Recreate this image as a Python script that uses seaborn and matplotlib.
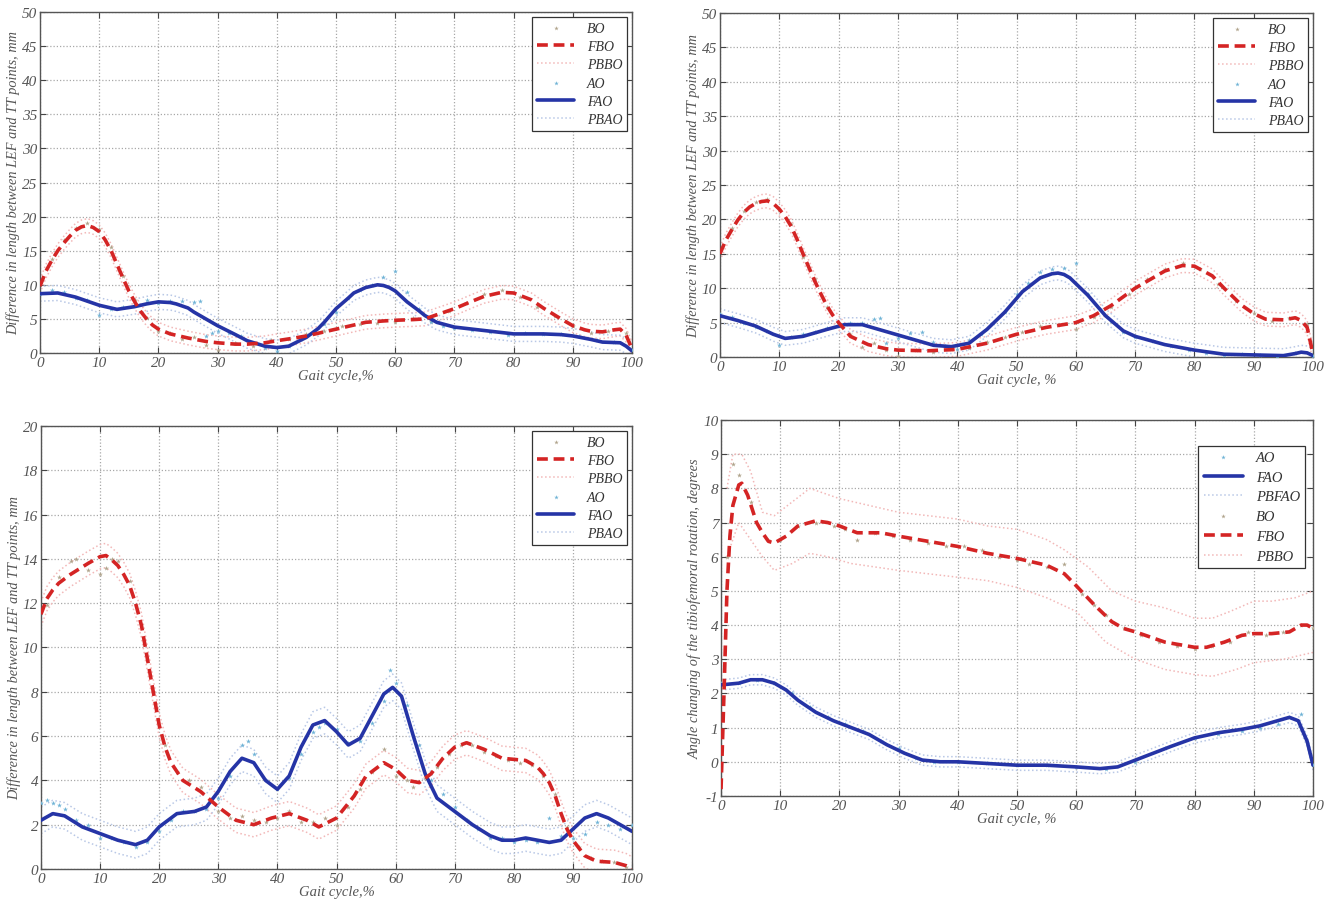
import numpy as np
import pandas as pd
import matplotlib
matplotlib.use("Agg")
import matplotlib.pyplot as plt
import seaborn as sns

# ---------------- DATA ----------------
# Panel 1 (top-left)
p1_fbo_x = [0, 1, 2, 3, 4, 5, 6, 7, 8, 9, 10, 11, 12, 13, 14, 15, 16, 17, 18, 19, 20, 22, 25, 28, 30, 33, 35, 38, 40, 43, 45, 48, 50, 53, 55, 58, 60, 63, 65, 67, 70, 73, 75, 78, 80, 83, 85, 88, 90, 92, 93, 95, 97, 98, 99, 100]
p1_fbo_y = [9.8, 12.0, 13.6, 15.0, 16.1, 17.1, 18.0, 18.5, 18.7, 18.4, 17.8, 16.6, 15.0, 13.0, 11.0, 9.1, 7.5, 6.1, 5.0, 4.1, 3.5, 2.8, 2.2, 1.7, 1.5, 1.3, 1.3, 1.5, 1.8, 2.2, 2.5, 3.1, 3.5, 4.1, 4.5, 4.7, 4.8, 4.9, 5.0, 5.6, 6.5, 7.6, 8.3, 8.9, 8.8, 7.8, 6.6, 5.0, 4.0, 3.4, 3.2, 3.1, 3.4, 3.5, 2.6, 0.6]
p1_fao_x = [0, 3, 6, 8, 10, 13, 16, 18, 20, 22, 23, 25, 26, 28, 30, 33, 35, 38, 40, 42, 45, 47, 48, 50, 52, 53, 55, 57, 58, 59, 60, 62, 64, 65, 67, 70, 75, 80, 85, 88, 90, 93, 95, 98, 99, 100]
p1_fao_y = [8.7, 8.8, 8.2, 7.6, 7.0, 6.4, 6.8, 7.2, 7.5, 7.4, 7.2, 6.6, 6.0, 5.0, 4.0, 2.7, 1.8, 1.0, 0.8, 1.0, 2.3, 3.6, 4.5, 6.5, 8.0, 8.8, 9.6, 10.0, 9.9, 9.6, 9.1, 7.5, 6.2, 5.5, 4.5, 3.8, 3.3, 2.8, 2.8, 2.7, 2.5, 2.0, 1.6, 1.5, 1.0, 0.3]
p1_bo_x = [0, 2, 4, 6, 8, 10, 12, 14, 16, 18, 20, 22, 24, 26, 28, 30, 33, 36, 39, 42, 45, 48, 51, 54, 57, 60, 63, 66, 69, 72, 75, 78, 81, 84, 87, 90, 93, 96, 99]
p1_bo_y = [10.2, 13.8, 16.5, 18.3, 19.0, 18.2, 15.5, 11.3, 7.8, 5.2, 3.3, 2.9, 2.0, 2.4, 1.2, 0.4, 1.5, 1.1, 1.9, 2.1, 2.8, 3.3, 3.9, 4.2, 4.4, 4.6, 5.1, 4.7, 6.2, 7.4, 8.6, 9.2, 8.2, 6.8, 5.4, 3.9, 3.0, 3.3, 3.0]
p1_ao_x = [0, 2, 4, 6, 8, 10, 12, 14, 16, 18, 20, 22, 24, 26, 27, 28, 29, 30, 32, 34, 36, 38, 40, 42, 44, 46, 48, 50, 52, 54, 56, 58, 60, 62, 64, 66, 68, 70, 73, 76, 79, 82, 85, 88, 91, 94, 97, 100]
p1_ao_y = [8.6, 9.2, 9.0, 8.0, 7.8, 5.5, 6.4, 6.8, 7.2, 7.7, 7.3, 7.6, 7.6, 7.5, 7.6, 2.5, 3.0, 3.3, 3.0, 2.5, 1.5, 0.8, 0.3, 1.0, 2.0, 3.0, 4.2, 6.0, 8.0, 9.2, 10.0, 11.2, 12.0, 9.0, 6.5, 4.5, 3.9, 3.7, 3.4, 3.1, 2.7, 2.9, 2.8, 2.8, 2.5, 1.9, 1.6, 0.5]
p1_pb_bo = 1.0
p1_pb_ao = 1.1

# Panel 2 (top-right)
p2_fbo_x = [0, 1, 2, 3, 4, 5, 6, 7, 8, 9, 10, 11, 12, 13, 14, 15, 16, 17, 18, 19, 20, 22, 25, 28, 30, 35, 40, 45, 50, 55, 60, 63, 66, 70, 73, 75, 78, 80, 83, 85, 88, 90, 92, 95, 97, 98, 99, 100]
p2_fbo_y = [15.0, 17.0, 18.5, 19.9, 21.0, 21.8, 22.3, 22.6, 22.7, 22.3, 21.5, 20.4, 19.0, 17.1, 15.0, 13.0, 11.0, 9.2, 7.5, 6.1, 5.0, 3.0, 1.8, 1.2, 1.0, 0.9, 1.1, 2.0, 3.3, 4.3, 5.0, 6.0, 7.5, 10.0, 11.5, 12.5, 13.3, 13.2, 11.8, 10.0, 7.5, 6.3, 5.5, 5.4, 5.7, 5.3, 4.3, 0.4]
p2_fao_x = [0, 3, 6, 9, 11, 14, 18, 21, 24, 28, 32, 36, 39, 42, 45, 48, 51, 54, 56, 57, 58, 59, 62, 65, 68, 70, 75, 80, 85, 90, 95, 97, 98, 99, 100]
p2_fao_y = [6.0, 5.3, 4.5, 3.3, 2.7, 3.0, 4.0, 4.7, 4.7, 3.7, 2.7, 1.7, 1.5, 2.0, 4.0, 6.5, 9.5, 11.5, 12.1, 12.2, 12.0, 11.5, 9.0, 6.0, 3.8, 3.0, 1.8, 1.0, 0.4, 0.3, 0.2, 0.5, 0.7, 0.6, 0.2]
p2_bo_x = [0, 2, 4, 6, 8, 10, 12, 14, 16, 18, 20, 22, 24, 26, 28, 30, 33, 36, 39, 42, 45, 48, 51, 54, 57, 60, 63, 66, 69, 72, 75, 78, 81, 84, 87, 90, 93, 96, 99]
p2_bo_y = [15.4, 18.8, 21.2, 22.6, 23.0, 21.3, 19.3, 14.6, 11.3, 7.2, 4.8, 3.3, 1.5, 2.0, 1.0, 0.1, 1.0, 0.7, 1.2, 1.3, 2.2, 2.9, 3.6, 4.5, 4.6, 4.0, 5.8, 7.3, 9.2, 11.4, 12.8, 13.6, 12.8, 10.6, 8.2, 6.4, 5.3, 5.6, 4.8]
p2_ao_x = [0, 2, 4, 6, 8, 10, 12, 14, 16, 18, 20, 22, 24, 26, 27, 28, 30, 32, 34, 36, 38, 40, 42, 44, 46, 48, 50, 52, 54, 56, 58, 60, 62, 64, 66, 68, 70, 73, 76, 79, 82, 85, 88, 91, 94, 97, 100]
p2_ao_y = [6.2, 5.8, 5.0, 4.3, 3.8, 1.8, 2.9, 3.4, 3.7, 4.2, 4.5, 4.9, 5.0, 5.5, 5.7, 2.0, 2.8, 3.5, 3.6, 2.2, 1.6, 1.2, 2.4, 3.4, 5.0, 6.6, 9.2, 10.8, 12.3, 12.8, 13.0, 13.6, 9.2, 7.0, 5.2, 3.6, 2.9, 2.3, 1.6, 1.0, 0.6, 0.3, 0.4, 0.3, 0.2, 0.6, 0.2]
p2_pb_bo = 1.0
p2_pb_ao = 1.0

# Panel 3 (bottom-left)
p3_fbo_x = [0, 1, 2, 3, 5, 8, 10, 11, 12, 13, 14, 15, 16, 17, 18, 19, 20, 21, 22, 24, 27, 30, 33, 36, 39, 42, 45, 47, 50, 53, 55, 58, 60, 62, 64, 66, 68, 70, 72, 75, 78, 82, 84, 85, 86, 87, 88, 89, 90, 92, 94, 97, 99, 100]
p3_fbo_y = [11.5, 12.2, 12.6, 12.9, 13.3, 13.8, 14.1, 14.15, 13.95, 13.7, 13.3, 12.8, 12.0, 11.0, 9.5, 8.0, 6.5, 5.5, 4.8, 4.0, 3.5, 2.8, 2.2, 2.0, 2.3, 2.5, 2.2, 1.9, 2.3, 3.3, 4.2, 4.8, 4.5, 4.0, 3.9, 4.3, 5.0, 5.5, 5.7, 5.4, 5.0, 4.9, 4.6, 4.3, 3.9, 3.3, 2.5, 1.8, 1.3, 0.6, 0.35, 0.3, 0.15, 0.0]
p3_fao_x = [0, 2, 4, 7, 10, 13, 16, 18, 20, 23, 26, 28, 30, 32, 34, 36, 38, 40, 42, 44, 46, 48, 50, 52, 54, 56, 58, 59.5, 61, 63, 65, 67, 70, 73, 76, 78, 80, 82, 84, 86, 88, 90, 92, 94, 96, 98, 100]
p3_fao_y = [2.2, 2.5, 2.4, 1.9, 1.6, 1.3, 1.1, 1.3, 1.9, 2.5, 2.6, 2.8, 3.5, 4.4, 5.0, 4.8, 4.0, 3.6, 4.2, 5.5, 6.5, 6.7, 6.2, 5.6, 5.9, 6.9, 7.9, 8.2, 7.8, 6.0, 4.3, 3.2, 2.6, 2.0, 1.5, 1.3, 1.3, 1.4, 1.3, 1.2, 1.3, 1.8, 2.3, 2.5, 2.3, 2.0, 1.7]
p3_bo_x = [0, 1, 3, 5, 6, 8, 10, 11, 12, 13, 15, 17, 19, 21, 23, 25, 27, 30, 32, 34, 36, 38, 40, 42, 44, 46, 48, 50, 52, 54, 56, 58, 60, 62, 63, 65, 67, 69, 71, 73, 75, 77, 79, 81, 83, 85, 87, 89, 91, 93, 95, 97, 99]
p3_bo_y = [11.6, 11.9, 13.2, 13.9, 14.0, 13.5, 13.3, 13.6, 14.0, 13.9, 13.0, 11.0, 8.0, 5.6, 4.4, 4.0, 3.7, 2.6, 2.3, 2.4, 2.2, 2.1, 2.3, 2.6, 2.1, 2.1, 2.3, 2.0, 2.8, 3.6, 4.4, 5.4, 4.2, 4.0, 3.7, 4.1, 4.6, 5.2, 5.6, 5.6, 5.3, 5.1, 4.9, 4.8, 4.7, 4.2, 3.4, 1.9, 1.0, 0.5, 0.35, 0.3, 0.1]
p3_ao_x = [0, 1, 2, 3, 4, 6, 8, 10, 12, 14, 16, 18, 20, 22, 24, 26, 28, 30, 32, 34, 35, 36, 38, 40, 42, 44, 46, 47, 48, 50, 52, 54, 56, 58, 59, 60, 62, 64, 66, 68, 70, 72, 74, 76, 78, 80, 82, 84, 86, 88, 90, 92, 94, 96, 98, 100]
p3_ao_y = [3.0, 3.1, 3.0, 2.9, 2.7, 2.2, 2.0, 1.4, 1.4, 1.2, 1.0, 1.2, 1.7, 2.2, 2.6, 2.6, 2.7, 3.2, 4.2, 5.6, 5.8, 5.2, 4.0, 3.6, 4.1, 5.2, 6.2, 6.4, 6.6, 6.3, 5.7, 5.8, 6.6, 7.6, 9.0, 8.4, 7.4, 5.6, 4.0, 3.4, 2.8, 2.2, 1.8, 1.4, 1.4, 1.2, 1.3, 1.2, 2.3, 1.5, 1.4, 1.6, 2.1, 2.0, 1.8, 2.0]
p3_pb_bo = 0.55
p3_pb_ao = 0.6

# Panel 4 (bottom-right)
p4_fbo_x = [0, 0.5, 1, 1.5, 2, 3, 3.5, 4.5, 6, 7, 8, 9, 11, 13, 16, 18, 20, 23, 27, 30, 35, 40, 45, 50, 55, 58, 60, 63, 66, 68, 70, 75, 80, 82, 85, 88, 90, 93, 96, 98, 99, 100]
p4_fbo_y = [-0.8, 2.0, 5.0, 6.6, 7.5, 8.1, 8.15, 7.8, 7.0, 6.7, 6.45, 6.4, 6.6, 6.9, 7.05, 7.0, 6.9, 6.7, 6.7, 6.6, 6.45, 6.3, 6.1, 5.95, 5.75, 5.5, 5.15, 4.6, 4.1, 3.9, 3.8, 3.5, 3.35, 3.35, 3.5, 3.7, 3.75, 3.75, 3.8, 4.0, 4.0, 3.9]
p4_fao_x = [0, 3, 5, 7, 9, 11, 13, 16, 19, 22, 25, 28, 31, 34, 37, 40, 45, 50, 55, 60, 64, 67, 70, 73, 76, 80, 84, 88, 91, 94, 96, 97.5, 99, 100]
p4_fao_y = [2.25, 2.3, 2.4, 2.4, 2.3, 2.1, 1.8, 1.45, 1.2, 1.0, 0.8, 0.5, 0.25, 0.05, 0.0, 0.0, -0.05, -0.1, -0.1, -0.15, -0.2, -0.15, 0.05, 0.25, 0.45, 0.7, 0.85, 0.95, 1.05, 1.2, 1.3, 1.2, 0.6, -0.1]
p4_pbbo_up_x = [1, 2, 3.5, 5, 7, 9, 12, 15, 20, 25, 30, 35, 40, 45, 50, 55, 58, 62, 66, 70, 75, 80, 83, 86, 90, 93, 97, 100]
p4_pbbo_up_y = [8.0, 9.0, 9.0, 8.5, 7.3, 7.2, 7.6, 8.0, 7.7, 7.5, 7.3, 7.2, 7.1, 6.9, 6.8, 6.5, 6.2, 5.7, 5.0, 4.7, 4.5, 4.2, 4.2, 4.4, 4.7, 4.7, 4.8, 5.0]
p4_pbbo_lo_x = [1, 3, 5, 7, 9, 12, 15, 18, 22, 26, 30, 35, 40, 45, 50, 55, 60, 65, 70, 75, 80, 83, 87, 90, 95, 100]
p4_pbbo_lo_y = [6.0, 7.0, 6.5, 6.0, 5.6, 5.8, 6.1, 6.0, 5.8, 5.7, 5.6, 5.5, 5.4, 5.3, 5.1, 4.8, 4.4, 3.5, 3.0, 2.7, 2.55, 2.5, 2.7, 2.9, 3.0, 3.2]
p4_bo_x = [1, 2, 3, 5, 8, 10, 13, 16, 19, 21, 23, 26, 29, 32, 35, 38, 41, 44, 47, 50, 52, 55, 58, 61, 63, 65, 68, 71, 74, 77, 80, 83, 86, 89, 92, 95, 98, 100]
p4_bo_y = [6.0, 8.7, 8.4, 7.6, 6.5, 6.5, 6.9, 7.0, 6.9, 6.8, 6.5, 6.7, 6.6, 6.5, 6.4, 6.3, 6.3, 6.2, 6.0, 5.9, 5.8, 5.7, 5.8, 4.9, 4.6, 4.3, 3.9, 3.7, 3.5, 3.4, 3.3, 3.4, 3.5, 3.8, 3.7, 3.8, 4.0, 3.9]
p4_ao_x = [0, 3, 6, 9, 12, 15, 18, 21, 24, 27, 30, 33, 36, 40, 45, 50, 55, 60, 65, 70, 75, 80, 84, 88, 91, 94, 96, 98, 100]
p4_ao_y = [2.3, 2.3, 2.4, 2.3, 2.0, 1.6, 1.3, 1.1, 0.9, 0.6, 0.4, 0.1, 0.0, 0.0, -0.05, -0.1, -0.1, -0.15, -0.2, 0.0, 0.4, 0.7, 0.8, 0.9, 1.0, 1.1, 1.3, 1.4, -0.1]
p4_pb_ao = 0.15

XLABELS = ["Gait cycle,%", "Gait cycle, %", "Gait cycle,%", "Gait cycle, %"]
YLABEL_LEN = "Difference in length between LEF and TT points, mm"
YLABEL_ANG = "Angle changing of the tibiofemoral rotation, degrees"

# ---------------- STYLE ----------------
sns.set_theme(style="white")
plt.rcParams['font.family'] = ['Liberation Serif', 'DejaVu Serif']
plt.rcParams['font.style'] = 'italic'

RED = '#d42424'
BLUE = '#2534a6'
PB_RED = '#f2b8b8'
PB_BLUE = '#b9c8e6'
PT_BO = '#b0a48c'
PT_AO = '#6fb3d6'

fig = plt.figure(figsize=(13.34, 9.04), dpi=100)
fig.patch.set_facecolor('white')

positions = [
    [0.0300, 0.6084, 0.4438, 0.3772],
    [0.5397, 0.6040, 0.4446, 0.3805],
    [0.0307, 0.0376, 0.4431, 0.4901],
    [0.5405, 0.1184, 0.4438, 0.4159],
]


def style_axes(ax, ylim, ystep, xlabel, ylabel):
    ax.set_xlim(0, 100)
    ax.set_ylim(*ylim)
    ax.set_xticks(np.arange(0, 101, 10))
    ticks = np.arange(ylim[0], ylim[1] + 0.001, ystep)
    ax.set_yticks(ticks)
    ax.set_yticklabels([f"{v:g}" for v in ticks])
    ax.grid(True, linestyle=(0, (1, 1.6)), color='#a8a8a8', linewidth=0.9)
    ax.tick_params(direction='in', length=4, width=0.8, colors='#444444',
                   labelsize=11, labelcolor='#555555', top=True, right=True,
                   bottom=True, left=True, pad=2)
    for s in ax.spines.values():
        s.set_color('#555555')
        s.set_linewidth(1.0)
        s.set_visible(True)
    ax.set_xlabel(xlabel, fontsize=10.5, color='#555555', labelpad=0)
    ax.set_ylabel(ylabel, fontsize=10.3, color='#555555', labelpad=1)
    ax.set_facecolor('white')


def draw_fit(ax, x, y, color, ls, lw, label, z):
    sns.lineplot(x=x, y=y, ax=ax, color=color, linestyle=ls, linewidth=lw,
                 label=label, zorder=z, sort=False)


def draw_bound(ax, x, y, color, label):
    sns.lineplot(x=x, y=y, ax=ax, color=color, linestyle=':', linewidth=1.1,
                 label=label, zorder=2, sort=False)


def draw_pts(ax, x, y, color, label):
    sns.scatterplot(x=x, y=y, ax=ax, color=color, marker='*', s=14,
                    linewidth=0, label=label, zorder=3)


def panel(ax, bo, fbo, pbbo, ao, fao, pbao, order, legend_kw):
    draw_pts(ax, *bo, PT_BO, 'BO')
    draw_pts(ax, *ao, PT_AO, 'AO')
    draw_bound(ax, pbbo[0][0], pbbo[0][1], PB_RED, pbbo[2])
    draw_bound(ax, pbbo[1][0], pbbo[1][1], PB_RED, '_nolegend_')
    draw_bound(ax, pbao[0][0], pbao[0][1], PB_BLUE, pbao[2])
    draw_bound(ax, pbao[1][0], pbao[1][1], PB_BLUE, '_nolegend_')
    draw_fit(ax, *fbo, RED, (0, (3, 1.6)), 2.6, 'FBO', 5)
    draw_fit(ax, *fao, BLUE, '-', 2.6, 'FAO', 4)
    h, l = ax.get_legend_handles_labels()
    d = dict(zip(l, h))
    leg = ax.legend([d[k] for k in order], order, frameon=True,
                    fancybox=False, edgecolor='#333333', framealpha=1,
                    handlelength=2.7, borderpad=0.35,
                    handletextpad=0.9, markerscale=0.9, **legend_kw)
    leg.get_frame().set_linewidth(0.9)
    for t in leg.get_texts():
        t.set_color('#333333')


def band(x, y, hw):
    ya = np.asarray(y, dtype=float)
    return ((x, ya + hw), (x, ya - hw))


axes = [fig.add_axes(p) for p in positions]
order6 = ['BO', 'FBO', 'PBBO', 'AO', 'FAO', 'PBAO']
leg_top = dict(loc='upper right', bbox_to_anchor=(1.0, 1.0), borderaxespad=0.35,
               fontsize=10, labelspacing=0.38)

# Panel 1
ax = axes[0]
b_bo = band(p1_fbo_x, p1_fbo_y, p1_pb_bo)
b_ao = band(p1_fao_x, p1_fao_y, p1_pb_ao)
panel(ax, (p1_bo_x, p1_bo_y), (p1_fbo_x, p1_fbo_y), (b_bo[0], b_bo[1], 'PBBO'),
      (p1_ao_x, p1_ao_y), (p1_fao_x, p1_fao_y), (b_ao[0], b_ao[1], 'PBAO'),
      order6, leg_top)
style_axes(ax, (0, 50), 5, XLABELS[0], YLABEL_LEN)

# Panel 2
ax = axes[1]
b_bo = band(p2_fbo_x, p2_fbo_y, p2_pb_bo)
b_ao = band(p2_fao_x, p2_fao_y, p2_pb_ao)
panel(ax, (p2_bo_x, p2_bo_y), (p2_fbo_x, p2_fbo_y), (b_bo[0], b_bo[1], 'PBBO'),
      (p2_ao_x, p2_ao_y), (p2_fao_x, p2_fao_y), (b_ao[0], b_ao[1], 'PBAO'),
      order6, leg_top)
style_axes(ax, (0, 50), 5, XLABELS[1], YLABEL_LEN)

# Panel 3
ax = axes[2]
b_bo = band(p3_fbo_x, p3_fbo_y, p3_pb_bo)
b_ao = band(p3_fao_x, p3_fao_y, p3_pb_ao)
panel(ax, (p3_bo_x, p3_bo_y), (p3_fbo_x, p3_fbo_y), (b_bo[0], b_bo[1], 'PBBO'),
      (p3_ao_x, p3_ao_y), (p3_fao_x, p3_fao_y), (b_ao[0], b_ao[1], 'PBAO'),
      order6, leg_top)
style_axes(ax, (0, 20), 2, XLABELS[2], YLABEL_LEN)

# Panel 4
ax = axes[3]
b_ao = band(p4_fao_x, p4_fao_y, p4_pb_ao)
panel(ax, (p4_bo_x, p4_bo_y), (p4_fbo_x, p4_fbo_y),
      ((p4_pbbo_up_x, p4_pbbo_up_y), (p4_pbbo_lo_x, p4_pbbo_lo_y), 'PBBO'),
      (p4_ao_x, p4_ao_y), (p4_fao_x, p4_fao_y), (b_ao[0], b_ao[1], 'PBFAO'),
      ['AO', 'FAO', 'PBFAO', 'BO', 'FBO', 'PBBO'],
      dict(loc='upper right', bbox_to_anchor=(0.987, 0.932), borderaxespad=0,
           fontsize=10.5, labelspacing=0.45))
style_axes(ax, (-1, 10), 1, XLABELS[3], YLABEL_ANG)

fig.savefig('out.png', dpi=100, facecolor='white')
